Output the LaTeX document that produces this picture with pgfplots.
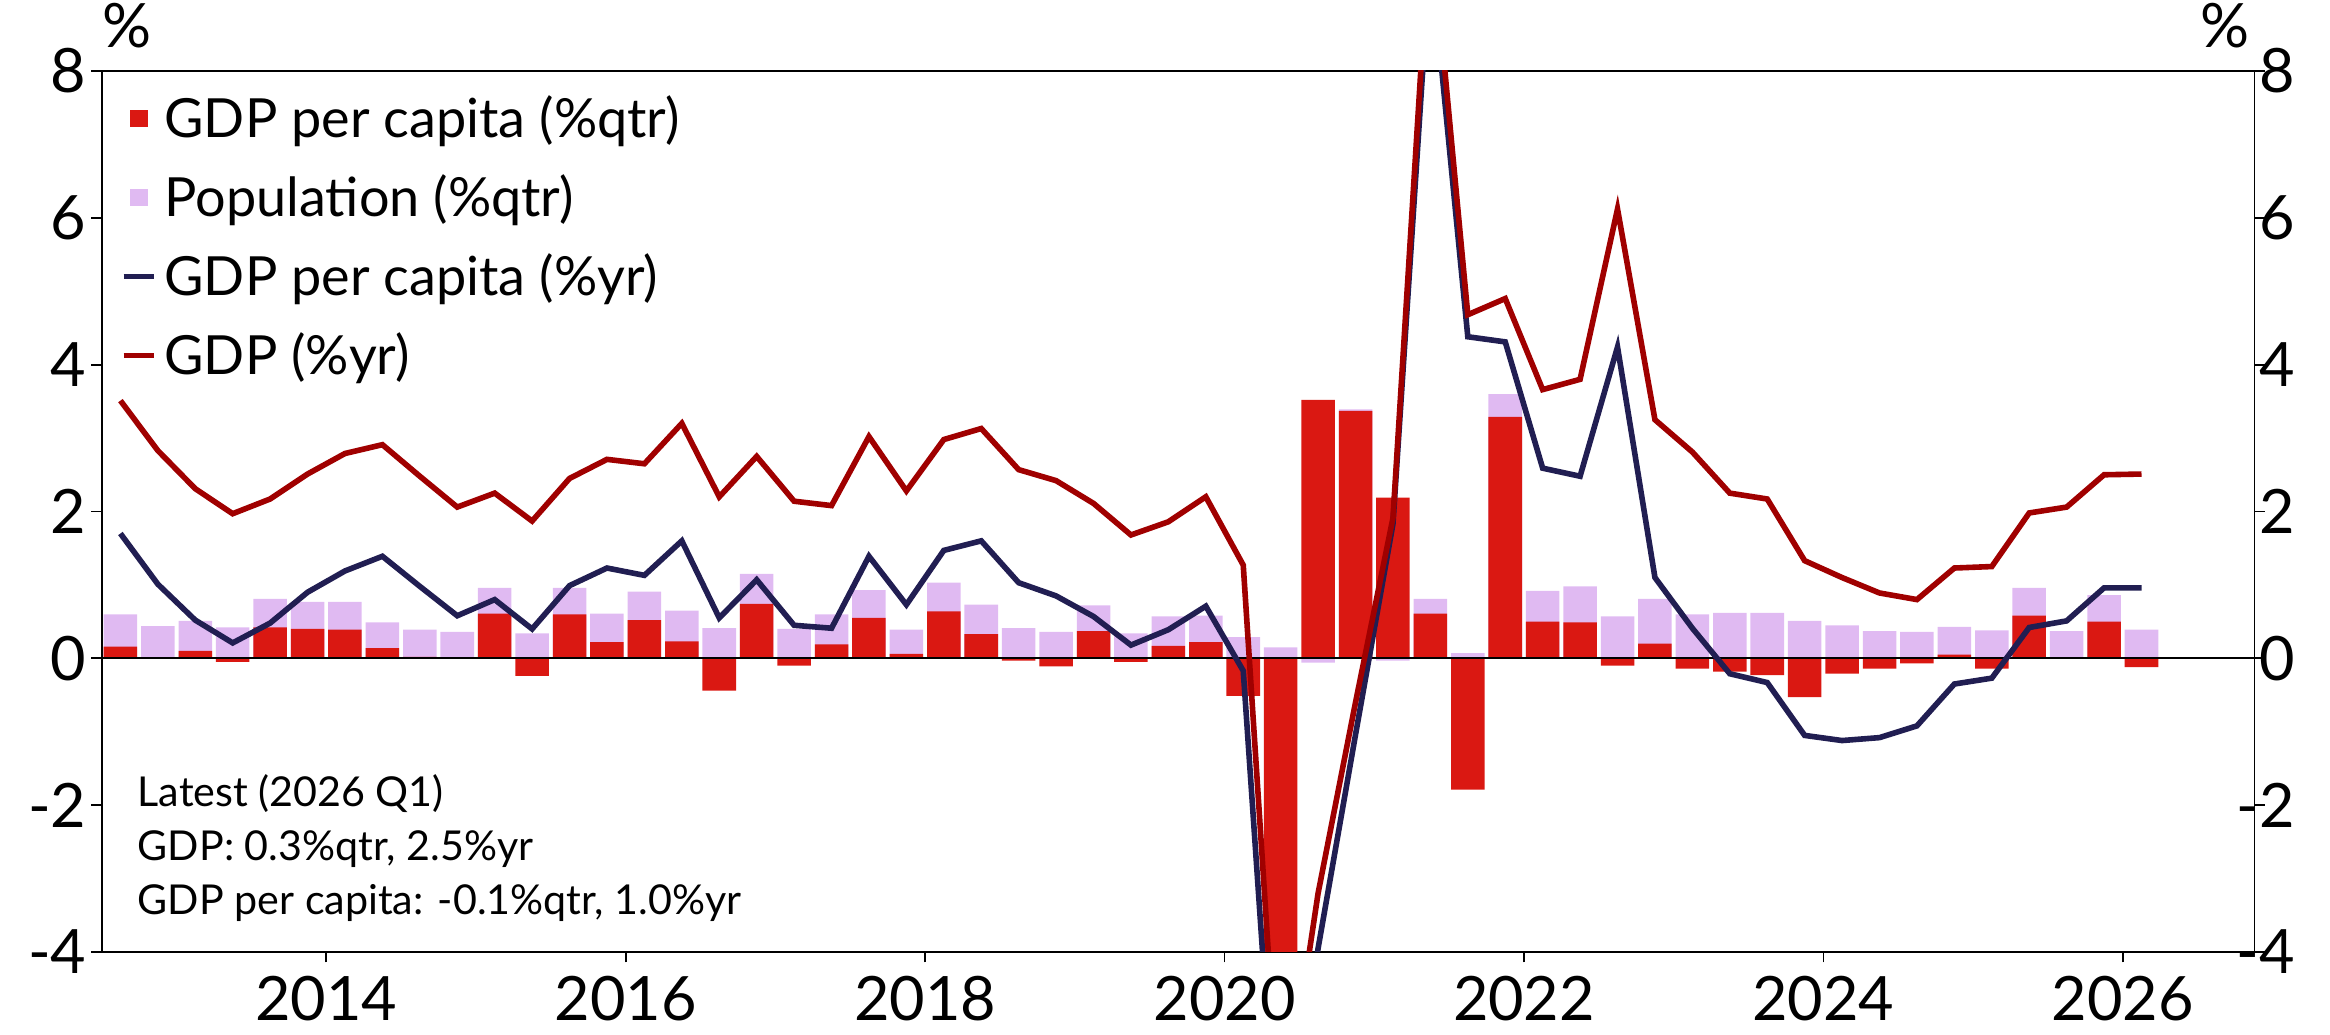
\documentclass[border=0pt]{standalone}
\usepackage{fontspec}
\setmainfont{Lato}
\usepackage{pgfplots}
\usepackage{pgfplotstable}
\pgfplotsset{compat=1.18}

\definecolor{barred}{RGB}{218,24,18}
\definecolor{barpop}{RGB}{224,186,242}
\definecolor{navy}{RGB}{33,30,82}
\definecolor{linered}{RGB}{160,0,0}

% quarterly data, plotted at mid-quarter
% gpc = GDP per capita %qtr, pop = population %qtr, gdpy = GDP %yr, gpcy = GDP per capita %yr
\pgfplotstableread{
x        gpc    pop    gdpy   gpcy
2012.625  0.16  0.44   3.51   1.70
2012.875  0.01  0.43   2.83   1.01
2013.125  0.10  0.41   2.31   0.52
2013.375 -0.05  0.42   1.97   0.21
2013.625  0.42  0.39   2.17   0.48
2013.875  0.40  0.37   2.51   0.90
2014.125  0.39  0.38   2.79   1.19
2014.375  0.14  0.35   2.91   1.39
2014.625  0.02  0.37   2.48   0.98
2014.875  0.00  0.36   2.06   0.58
2015.125  0.61  0.35   2.25   0.80
2015.375 -0.24  0.34   1.87   0.40
2015.625  0.60  0.36   2.45   0.99
2015.875  0.22  0.39   2.71   1.23
2016.125  0.52  0.39   2.65   1.13
2016.375  0.23  0.42   3.20   1.60
2016.625 -0.44  0.41   2.20   0.55
2016.875  0.74  0.41   2.75   1.07
2017.125 -0.10  0.40   2.14   0.45
2017.375  0.19  0.41   2.08   0.41
2017.625  0.55  0.38   3.02   1.39
2017.875  0.06  0.33   2.28   0.73
2018.125  0.64  0.39   2.98   1.47
2018.375  0.33  0.40   3.13   1.60
2018.625 -0.03  0.41   2.57   1.03
2018.875 -0.11  0.36   2.42   0.85
2019.125  0.37  0.35   2.11   0.57
2019.375 -0.05  0.34   1.68   0.18
2019.625  0.17  0.40   1.86   0.39
2019.875  0.22  0.36   2.20   0.71
2020.125 -0.51  0.29   1.27  -0.17
2020.375 -7.10  0.15  -6.60  -7.60
2020.625  3.52 -0.06  -3.20  -3.95
2020.875  3.37  0.02  -0.60  -1.04
2021.125  2.19 -0.03   1.91   1.83
2021.375  0.61  0.20  10.10   9.60
2021.625 -1.79  0.07   4.68   4.38
2021.875  3.29  0.31   4.90   4.31
2022.125  0.50  0.42   3.66   2.59
2022.375  0.49  0.49   3.80   2.48
2022.625 -0.10  0.57   6.12   4.24
2022.875  0.20  0.61   3.25   1.10
2023.125 -0.14  0.60   2.81   0.41
2023.375 -0.18  0.62   2.25  -0.21
2023.625 -0.23  0.62   2.17  -0.33
2023.875 -0.53  0.51   1.33  -1.05
2024.125 -0.21  0.45   1.10  -1.12
2024.375 -0.14  0.37   0.89  -1.08
2024.625 -0.07  0.36   0.80  -0.92
2024.875  0.05  0.38   1.23  -0.35
2025.125 -0.14  0.38   1.25  -0.27
2025.375  0.58  0.38   1.98   0.42
2025.625  0.00  0.37   2.06   0.51
2025.875  0.50  0.36   2.50   0.96
2026.125 -0.12  0.39   2.51   0.96
}\data

\begin{document}
\begin{tikzpicture}
\path[use as bounding box] (-25.425pt,-20.75pt) rectangle (557.075pt,238pt);

\begin{axis}[
  name=main,
  at={(0,0)}, anchor=south west,
  scale only axis, width=538.2pt, height=220.25pt,
  xmin=2012.5, xmax=2026.88, ymin=-4, ymax=8,
  axis line style={line width=0.45pt},
  tick align=outside, major tick length=2.6pt,
  tick style={black, line width=0.45pt},
  xtick={2014,2016,...,2026},
  xticklabels={2014,2016,2018,2020,2022,2024,2026},
  ytick={-4,-2,...,8},
  yticklabels={-4,-2,0,2,4,6,8},
  xtick pos=bottom, ytick pos=left,
  ticklabel style={font=\fontsize{15.3}{15}\selectfont},
  yticklabel style={xshift=2.3pt},
  legend cell align=left,
  legend style={draw=none, fill=none,
    at={(axis description cs:0,1)}, anchor=north west,
    xshift=4.6pt, yshift=-7.1pt,
    inner sep=0pt, row sep=10.5pt,
    nodes={inner sep=0pt, text height=9.25pt, text depth=0pt,
           font=\fontsize{13.5}{13.5}\selectfont},
    /tikz/every odd column/.append style={column sep=2pt}},
]

% population bar sits on the positive (or negative) part of GDP per capita
\addplot[ybar, bar width=0.224, bar shift=0pt, fill=barpop, draw=none, forget plot]
  table[x=x, y expr={\thisrow{pop}>0 ? max(\thisrow{gpc},0)+\thisrow{pop} : min(\thisrow{gpc},0)+\thisrow{pop}}] {\data};
\addplot[ybar, bar width=0.224, bar shift=0pt, fill=barred, draw=none, forget plot]
  table[x=x, y=gpc] {\data};

\draw[black, line width=0.45pt] (axis cs:2012.5,0) -- (axis cs:2026.88,0);

\addplot[navy, line width=1.4pt, no markers, forget plot] table[x=x, y=gpcy] {\data};
\addplot[linered, line width=1.4pt, no markers, forget plot] table[x=x, y=gdpy] {\data};

\addlegendimage{legend image code/.code={\fill[barred] (1.75pt,-2pt) rectangle (5.75pt,2pt);}}
\addlegendentry{GDP per capita (\%qtr)}
\addlegendimage{legend image code/.code={\fill[barpop] (1.75pt,-2pt) rectangle (5.75pt,2pt);}}
\addlegendentry{Population (\%qtr)}
\addlegendimage{legend image code/.code={\draw[navy, line width=1.4pt] (0pt,0pt) -- (7.5pt,0pt);}}
\addlegendentry{GDP per capita (\%yr)}
\addlegendimage{legend image code/.code={\draw[linered, line width=1.4pt] (0pt,0pt) -- (7.5pt,0pt);}}
\addlegendentry{GDP (\%yr)}

\node[anchor=base west, inner sep=0pt, font=\fontsize{10.3}{12}\selectfont] at (axis description cs:0.0164,0.1657) {Latest (2026 Q1)};
\node[anchor=base west, inner sep=0pt, font=\fontsize{10.3}{12}\selectfont] at (axis description cs:0.0164,0.1044) {GDP: 0.3\%qtr, 2.5\%yr};
\node[anchor=base west, inner sep=0pt, font=\fontsize{10.3}{12}\selectfont] at (axis description cs:0.0164,0.042) {GDP per capita: -0.1\%qtr, 1.0\%yr};
\end{axis}

\begin{axis}[
  at={(0,0)}, anchor=south west,
  scale only axis, width=538.2pt, height=220.25pt,
  xmin=2012.5, xmax=2026.88, ymin=-4, ymax=8,
  axis x line=none, axis y line*=right,
  axis line style={line width=0.45pt},
  tick align=outside, major tick length=2.6pt,
  tick style={black, line width=0.45pt},
  ytick={-4,-2,...,8},
  yticklabels={-4,-2,0,2,4,6,8},
  ticklabel style={font=\fontsize{15.3}{15}\selectfont},
  yticklabel style={anchor=east, xshift=11pt},
]
\end{axis}

\node[anchor=base west, inner sep=0pt, font=\fontsize{15.3}{15}\selectfont] at ([yshift=5.75pt]main.north west) {\%};
\node[anchor=base east, inner sep=0pt, font=\fontsize{15.3}{15}\selectfont] at ([xshift=-1pt,yshift=5.75pt]main.north east) {\%};
\end{tikzpicture}
\end{document}
